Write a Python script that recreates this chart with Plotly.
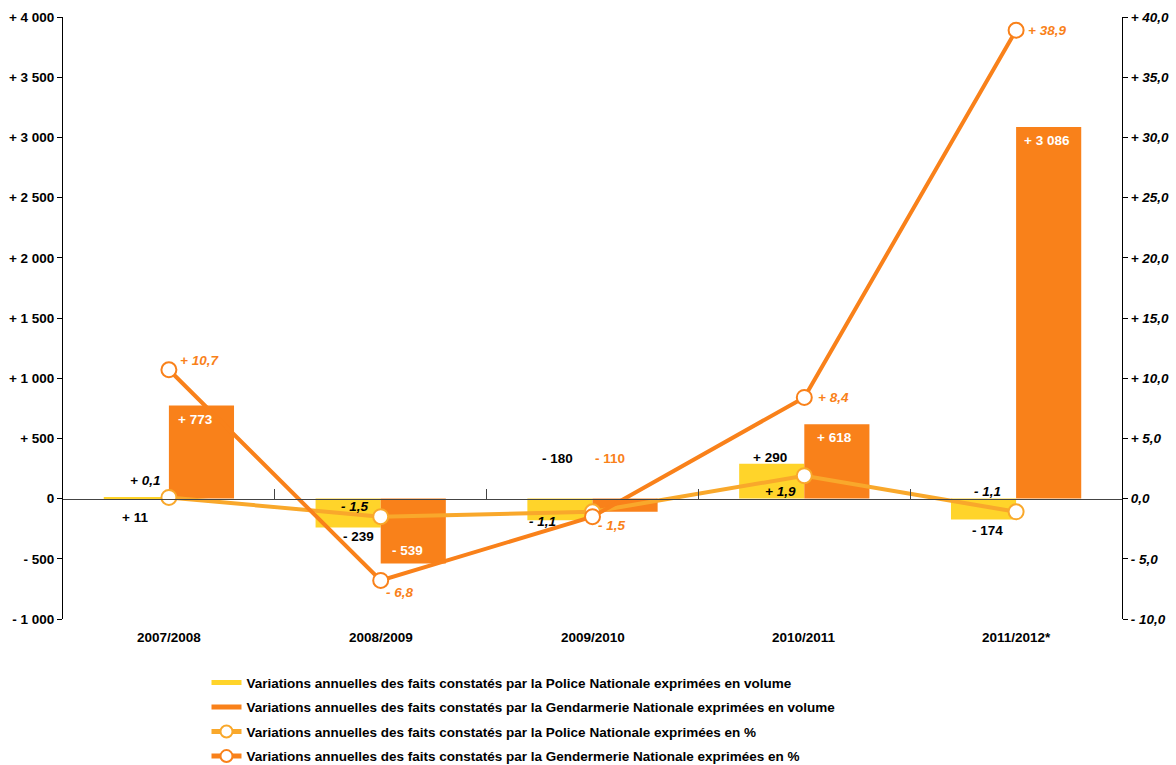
import plotly.graph_objects as go

categories = ["2007/2008", "2008/2009", "2009/2010", "2010/2011", "2011/2012*"]
police_vol = [11, -239, -180, 290, -174]
gend_vol = [773, -539, -110, 618, 3086]
police_pct = [0.1, -1.5, -1.1, 1.9, -1.1]
gend_pct = [10.7, -6.8, -1.5, 8.4, 38.9]

police_vol_txt = ["+ 11", "- 239", "- 180", "+ 290", "- 174"]
gend_vol_txt = ["+ 773", "- 539", "- 110", "+ 618", "+ 3 086"]
police_pct_txt = ["+ 0,1", "- 1,5", "- 1,1", "+ 1,9", "- 1,1"]
gend_pct_txt = ["+ 10,7", "- 6,8", "- 1,5", "+ 8,4", "+ 38,9"]

left_ticks = [-1000, -500, 0, 500, 1000, 1500, 2000, 2500, 3000, 3500, 4000]
left_ticktext = ["- 1 000", "- 500", "0", "+ 500", "+ 1 000", "+ 1 500", "+ 2 000",
                 "+ 2 500", "+ 3 000", "+ 3 500", "+ 4 000"]
right_ticks = [-10, -5, 0, 5, 10, 15, 20, 25, 30, 35, 40]
right_ticktext = ["- 10,0", "- 5,0", "0,0", "+ 5,0", "+ 10,0", "+ 15,0", "+ 20,0",
                  "+ 25,0", "+ 30,0", "+ 35,0", "+ 40,0"]

legend_names = [
    "Variations annuelles des faits constatés par la Police Nationale exprimées en volume",
    "Variations annuelles des faits constatés par la Gendarmerie Nationale exprimées en volume",
    "Variations annuelles des faits constatés par la Police Nationale exprimées en %",
    "Variations annuelles des faits constatés par la Gendermerie Nationale exprimées en %",
]

# styling
YELLOW = "#FFD42A"
ORANGE = "#F9811A"
LIGHT_ORANGE = "#F9A82B"
FONT = "Liberation Sans, Arial, sans-serif"
FS = 13.5

# label placement offsets (pixels, dy positive = up)
police_vol_off = [(-34, -20), (-22, -9), (-35, 62), (-34, 6), (-29, -11)]
gend_vol_off = [(27, -14), (27, 13), (17, 53), (30, -13), (31, -13)]
police_pct_off = [(-24, 17), (-26, 10), (-50, -10), (-24, -16), (-29, 20)]
gend_pct_off = [(31, 9), (19, -12), (19, -9), (29, 0), (31, 0)]
gend_vol_colors = ["white", "white", ORANGE, "white", "white"]

fig = go.Figure()
# legend entries for the bars (wide rectangular swatches)
fig.add_trace(go.Scatter(x=[None], y=[None], mode="lines", name="<b>%s</b>" % legend_names[0],
                         line=dict(color=YELLOW, width=11), legendgroup="a", hoverinfo="skip"))
fig.add_trace(go.Scatter(x=[None], y=[None], mode="lines", name="<b>%s</b>" % legend_names[1],
                         line=dict(color=ORANGE, width=11), legendgroup="b", hoverinfo="skip"))
fig.add_trace(go.Bar(x=categories, y=police_vol, name=legend_names[0], showlegend=False,
                     marker_color=YELLOW, marker_line_width=0, legendgroup="a"))
fig.add_trace(go.Bar(x=categories, y=gend_vol, name=legend_names[1], showlegend=False,
                     marker_color=ORANGE, marker_line_width=0, legendgroup="b"))
fig.add_trace(go.Scatter(x=categories, y=police_pct, name="<b>%s</b>" % legend_names[2], yaxis="y2",
                         mode="lines+markers", line=dict(color=LIGHT_ORANGE, width=4),
                         marker=dict(size=15, color="white", line=dict(color=LIGHT_ORANGE, width=2)),
                         legendgroup="c"))
fig.add_trace(go.Scatter(x=categories, y=gend_pct, name="<b>%s</b>" % legend_names[3], yaxis="y2",
                         mode="lines+markers", line=dict(color=ORANGE, width=4),
                         marker=dict(size=15, color="white", line=dict(color=ORANGE, width=2)),
                         legendgroup="d"))

ann = []
bold = dict(family=FONT, size=FS, color="black")
for i, c in enumerate(categories):
    dx, dy = police_vol_off[i]
    ann.append(dict(x=c, y=police_vol[i], xref="x", yref="y", text="<b>%s</b>" % police_vol_txt[i],
                    showarrow=False, xshift=dx, yshift=dy, font=bold))
    dx, dy = gend_vol_off[i]
    ann.append(dict(x=c, y=gend_vol[i], xref="x", yref="y", text="<b>%s</b>" % gend_vol_txt[i],
                    showarrow=False, xshift=dx, yshift=dy,
                    font=dict(family=FONT, size=FS, color=gend_vol_colors[i])))
    dx, dy = police_pct_off[i]
    ann.append(dict(x=c, y=police_pct[i], xref="x", yref="y2", text="<b><i>%s</i></b>" % police_pct_txt[i],
                    showarrow=False, xshift=dx, yshift=dy, font=bold))
    dx, dy = gend_pct_off[i]
    ann.append(dict(x=c, y=gend_pct[i], xref="x", yref="y2", text="<b><i>%s</i></b>" % gend_pct_txt[i],
                    showarrow=False, xshift=dx, yshift=dy,
                    font=dict(family=FONT, size=FS, color=ORANGE)))
    ann.append(dict(x=c, y=0, xref="x", yref="paper", text="<b>%s</b>" % c, showarrow=False,
                    yanchor="top", yshift=-9, font=bold))

fig.update_layout(
    width=1176, height=765,
    margin=dict(l=63, r=54, t=17, b=146, autoexpand=False),
    paper_bgcolor="white", plot_bgcolor="white",
    barmode="group", bargap=0.385, bargroupgap=0,
    font=dict(family=FONT, size=FS, color="black"),
    xaxis=dict(type="category", categoryarray=categories, anchor="free", position=0.2, showline=True,
               linecolor="#444", linewidth=1, ticks="inside", tickson="boundaries", ticklen=10,
               tickcolor="#444", showticklabels=False, showgrid=False, zeroline=False, automargin=False),
    yaxis=dict(range=[-1000, 4000], tickvals=left_ticks, ticktext=["<b>%s</b>" % t for t in left_ticktext],
               showline=True, linecolor="black", linewidth=1, ticks="outside", ticklen=5,
               tickcolor="black", showgrid=False, zeroline=False, anchor="x", automargin=False,
               tickfont=dict(family=FONT, size=FS, color="black")),
    yaxis2=dict(range=[-10, 40], overlaying="y", side="right", tickvals=right_ticks,
                ticktext=["<b><i>%s</i></b>" % t for t in right_ticktext],
                showline=True, linecolor="black", linewidth=1, ticks="outside", ticklen=5,
                tickcolor="black", showgrid=False, zeroline=False, anchor="x", automargin=False,
                tickfont=dict(family=FONT, size=FS, color="black")),
    legend=dict(x=0.1355, y=-0.08, xanchor="left", yanchor="top", orientation="v",
                tracegroupgap=4, font=dict(family=FONT, size=FS, color="black"),
                itemwidth=30, itemsizing="constant", bgcolor="rgba(0,0,0,0)", traceorder="grouped"),
    annotations=ann,
)

fig.write_html("out.html", config={"displayModeBar": False},
               post_script="document.body.style.margin='0';")
